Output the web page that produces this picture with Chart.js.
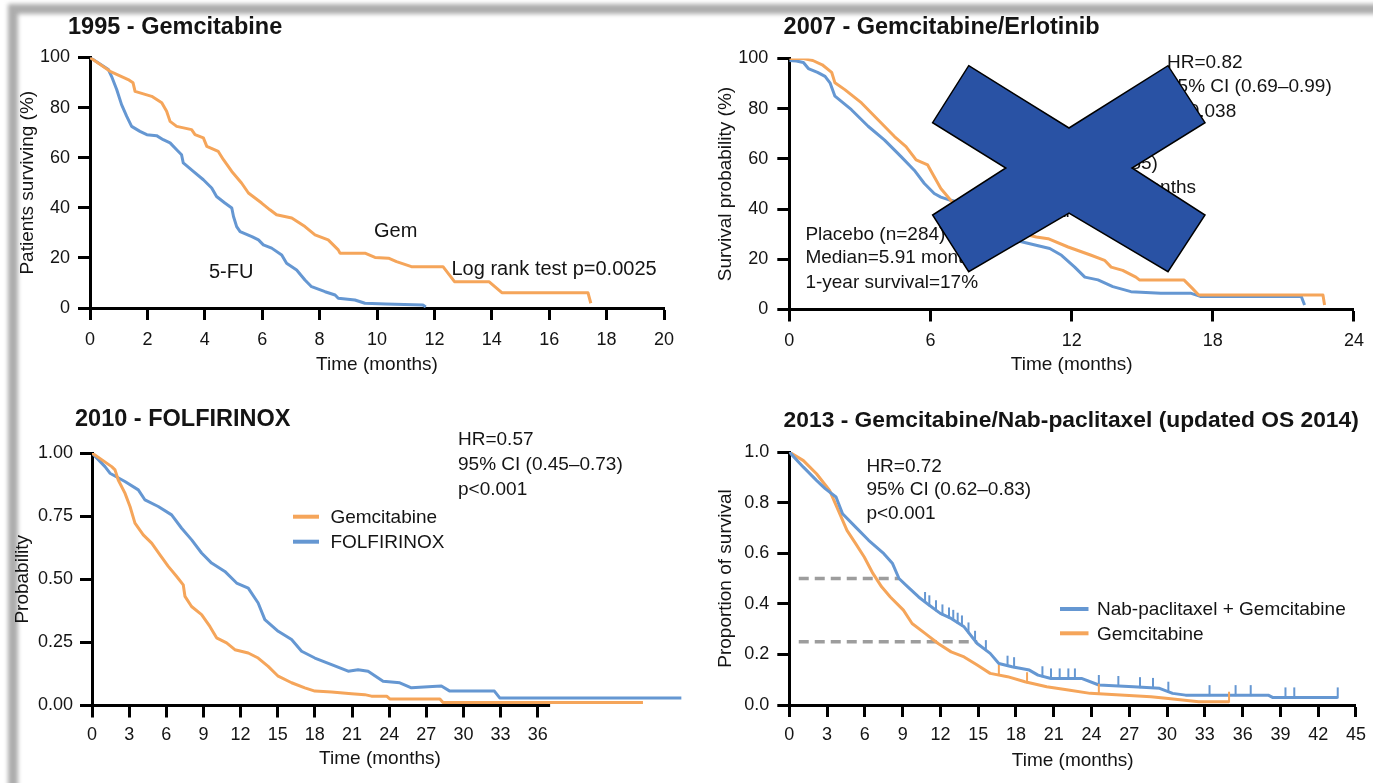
<!DOCTYPE html>
<html lang="en">
<head>
<meta charset="utf-8">
<title>Overall survival in advanced pancreatic cancer trials</title>
<script src="https://cdn.jsdelivr.net/npm/chart.js@4.4.1/dist/chart.umd.min.js"></script>
<style>
  html, body { margin: 0; padding: 0; background: #fff; }
  #sheet { position: relative; width: 1373px; height: 783px; overflow: hidden; background: #fff; }
  #sheet .edge { position: absolute; left: 8px; top: 4px; width: 1420px; height: 830px;
    border-top: 10px solid #adadad; border-left: 10px solid #adadad; filter: blur(2px); }
  #sheet canvas { position: absolute; }
  #sheet svg { position: absolute; left: 0; top: 0; }
</style>
</head>
<body>
<div id="sheet">
  <div class="edge"></div>
  <canvas id="km1995" width="690" height="390" style="left:0;top:0"></canvas>
  <canvas id="km2007" width="683" height="390" style="left:690px;top:0"></canvas>
  <canvas id="km2010" width="690" height="393" style="left:0;top:390px"></canvas>
  <canvas id="km2013" width="683" height="393" style="left:690px;top:390px"></canvas>
  <svg width="1373" height="783"><polygon points="968.7,65.7 1069,128 1168,65.7 1205,122.7 1132,168 1205,215 1168,271.7 1069,213 968.7,271.7 932.6,215 1005.8,168 932.6,122.7" fill="#2952a4" stroke="#000" stroke-width="1.5"/></svg>
</div>
<script>
const FONT = "'Liberation Sans', Arial, Helvetica, sans-serif";
const INK = '#141414';
const ORANGE = '#f5a55a';
const BLUE = '#6597d2';
const GREY = '#9d9d9d';

// ---- 1995: gemcitabine vs 5-FU (survival %, months) ----
const t1995Gem = [0, 0.7, 1.33, 1.5, 1.57, 2.15, 2.5, 2.67, 2.79, 3.02, 3.54, 3.66, 3.95, 4.07, 4.47, 4.65, 4.94, 5.28, 5.52, 5.98, 6.27, 6.5, 7.03, 7.49, 7.84, 8.3, 8.65, 8.71, 9.58, 9.93, 10.4, 10.68, 11.2, 12.3, 12.7, 13.9, 14.35, 17.35, 17.45];
const s1995Gem = [100, 94.5, 91.2, 89.9, 86.5, 84.5, 81.9, 78.5, 74.5, 72.5, 71.2, 69.2, 67.9, 64.5, 62.5, 59.2, 54.5, 49.9, 45.9, 41.9, 39.2, 37.2, 35.9, 32.5, 29.2, 27.2, 23.2, 21.9, 21.9, 20.2, 19.9, 18.5, 16.5, 16.5, 10.5, 10.5, 6.1, 6.1, 1.9];
const t1995Fu = [0, 0.64, 0.75, 0.93, 1.1, 1.28, 1.45, 1.74, 1.98, 2.32, 2.55, 2.79, 3.02, 3.19, 3.25, 3.6, 3.95, 4.24, 4.41, 4.7, 4.94, 5.0, 5.11, 5.23, 5.64, 5.87, 6.04, 6.33, 6.68, 6.85, 7.2, 7.49, 7.72, 8.19, 8.54, 8.65, 9.23, 9.58, 10.3, 11.6, 11.7];
const s1995Fu = [100, 95.2, 92.5, 87.2, 81.2, 76.5, 72.5, 70.5, 69.2, 68.8, 67.2, 65.9, 63.2, 61.2, 57.9, 54.5, 51.2, 47.9, 44.5, 41.9, 39.9, 36.5, 32.5, 30.5, 28.5, 27.2, 25.2, 23.9, 21.2, 17.9, 15.2, 11.2, 8.5, 6.5, 5.2, 3.9, 3.2, 1.9, 1.6, 1.2, 0.4];
const ticks1995X = [0, 2, 4, 6, 8, 10, 12, 14, 16, 18, 20];
const ticks1995Y = [0, 20, 40, 60, 80, 100];

// ---- 2007: gemcitabine/erlotinib vs placebo ----
const t2007Erl = [0, 0.6, 1.0, 1.4, 1.8, 1.94, 2.36, 3.07, 3.77, 4.47, 4.96, 5.39, 5.88, 6.16, 6.44, 6.86, 7.14, 7.5, 8, 8.5, 9, 9.6, 10.5, 11.0, 11.85, 12.83, 13.4, 13.68, 14.17, 14.73, 14.88, 16.77, 17.12, 17.4, 22.68, 22.75];
const s2007Erl = [100, 100, 99.2, 97.5, 94.5, 90.3, 87.6, 82.3, 75.6, 68.9, 64.9, 59.6, 57.6, 52.9, 48.2, 43.5, 40.8, 40, 38.5, 36, 33, 31, 28.9, 28.2, 24.9, 21.6, 19.6, 16.9, 15.6, 12.9, 11.8, 11.8, 8.5, 5.8, 5.8, 1.8];
const t2007Pbo = [0, 0.3, 0.6, 0.81, 1.2, 1.52, 1.73, 1.94, 2.64, 3.35, 4.05, 4.75, 5.31, 5.74, 6.16, 6.44, 6.86, 7.5, 8, 8.5, 9, 9.6, 11.07, 11.57, 12.13, 12.56, 13.12, 13.75, 14.52, 15.79, 17.05, 17.47, 21.76, 21.9];
const s2007Pbo = [99.2, 99, 98.4, 96, 94.5, 92.9, 90.3, 85, 79.6, 73, 67.5, 60.9, 55.5, 50.2, 46.2, 44.8, 43.5, 42, 38, 34, 30.5, 27.6, 24.3, 21.6, 16.9, 12.9, 11.8, 9.1, 7.1, 6.5, 6.5, 5.2, 5.2, 1.8];
const ticks2007X = [0, 6, 12, 18, 24];
const ticks2007Y = [0, 20, 40, 60, 80, 100];

// ---- 2010: FOLFIRINOX vs gemcitabine (probability) ----
const t2010Gem = [0, 1.59, 1.86, 2.12, 2.66, 3.07, 3.47, 4.14, 4.82, 5.49, 6.16, 6.84, 7.37, 7.51, 8.04, 8.85, 9.52, 10.06, 10.87, 11.54, 12.62, 13.42, 14.23, 15.04, 16.12, 17.19, 18.0, 19.35, 20.96, 22.03, 22.57, 23.8, 24.05, 28.1, 28.35, 44.5];
const s2010Gem = [1, 0.946, 0.933, 0.893, 0.841, 0.788, 0.722, 0.676, 0.643, 0.597, 0.551, 0.511, 0.478, 0.432, 0.392, 0.36, 0.313, 0.268, 0.248, 0.221, 0.208, 0.188, 0.155, 0.116, 0.09, 0.07, 0.057, 0.053, 0.047, 0.043, 0.037, 0.037, 0.026, 0.026, 0.012, 0.012];
const t2010Ffx = [0, 1.05, 1.45, 2.66, 3.74, 4.28, 5.35, 6.43, 7.24, 8.05, 8.85, 9.66, 10.73, 11.68, 12.62, 13.42, 13.96, 15.04, 16.12, 16.93, 18.0, 19.35, 20.69, 21.49, 22.3, 23.51, 24.86, 25.8, 27.5, 28.22, 28.9, 32.5, 32.93, 47.6];
const s2010Ffx = [1, 0.946, 0.92, 0.887, 0.854, 0.814, 0.788, 0.755, 0.702, 0.656, 0.604, 0.564, 0.531, 0.485, 0.465, 0.406, 0.34, 0.294, 0.261, 0.215, 0.188, 0.162, 0.136, 0.142, 0.136, 0.096, 0.09, 0.07, 0.075, 0.077, 0.057, 0.057, 0.03, 0.03];
const ticks2010X = [0, 3, 6, 9, 12, 15, 18, 21, 24, 27, 30, 33, 36];
const ticks2010Y = [0, 0.25, 0.5, 0.75, 1];

// ---- 2013: nab-paclitaxel + gemcitabine vs gemcitabine ----
const t2013Nab = [0, 1.12, 2.16, 2.85, 3.71, 4.23, 5.27, 6.3, 7.51, 8.2, 8.71, 9.41, 10.27, 11.12, 11.99, 12.85, 13.88, 14.92, 15.95, 16.64, 17.68, 19.06, 19.75, 20.78, 23.2, 24.58, 27.33, 29.4, 30.44, 31.47, 38.03, 38.37, 43.55];
const s2013Nab = [1, 0.94, 0.888, 0.855, 0.822, 0.756, 0.703, 0.651, 0.598, 0.559, 0.5, 0.467, 0.427, 0.394, 0.362, 0.342, 0.309, 0.243, 0.204, 0.164, 0.151, 0.138, 0.118, 0.105, 0.105, 0.079, 0.072, 0.066, 0.046, 0.039, 0.039, 0.03, 0.03];
const t2013Gem = [0, 1.12, 2.16, 3.2, 3.89, 4.58, 5.27, 5.95, 6.64, 7.33, 8.02, 9.06, 9.75, 10.78, 11.82, 12.85, 13.88, 14.92, 15.95, 17.33, 18.71, 20.44, 22.16, 23.89, 26.64, 28.72, 30.1, 32.51, 34.92];
const s2013Gem = [1, 0.966, 0.914, 0.848, 0.769, 0.69, 0.638, 0.585, 0.52, 0.467, 0.427, 0.375, 0.322, 0.283, 0.243, 0.21, 0.19, 0.158, 0.125, 0.112, 0.092, 0.072, 0.059, 0.046, 0.039, 0.033, 0.026, 0.013, 0.013];
const censor2013Nab = [10.78, 11.12, 11.65, 12.16, 12.68, 13.02, 13.37, 13.71, 14.23, 14.75, 15.61, 17.33, 17.85, 20.1, 20.78, 21.47, 22.16, 22.68, 24.58, 26.13, 27.85, 28.88, 30.1, 33.37, 35.44, 36.64, 39.4, 40.1, 43.55];
const censor2013Gem = [16.64, 18.88, 24.58, 34.92];
// median and quartile reference lines
const tMedianRef = [0.75, 8.71];
const sMedianRef = [0.5, 0.5];
const tQuartileRef = [0.75, 14.92];
const sQuartileRef = [0.25, 0.25];
const ticks2013X = [0, 3, 6, 9, 12, 15, 18, 21, 24, 27, 30, 33, 36, 39, 42, 45];
const ticks2013Y = [0, 0.2, 0.4, 0.6, 0.8, 1];

// survival level of a curve at time t (linear between read points)
function valueAt(data, t) {
  for (let i = 0; i < data.length - 1; i++) {
    const a = data[i], b = data[i + 1];
    if (t >= a.x && t <= b.x) {
      if (b.x === a.x) return b.y;
      return a.y + (b.y - a.y) * (t - a.x) / (b.x - a.x);
    }
  }
  return data[data.length - 1].y;
}

function overlay(p) {
  return {
    id: 'kmOverlay',
    afterDraw(chart) {
      const ctx = chart.ctx, x = chart.scales.x, y = chart.scales.y, area = chart.chartArea;
      ctx.save();
      if (p.xAxisTo !== undefined) {
        ctx.strokeStyle = '#000';
        ctx.lineWidth = 3;
        ctx.beginPath();
        ctx.moveTo(x.getPixelForValue(0) - 1.5, area.bottom);
        ctx.lineTo(x.getPixelForValue(p.xAxisTo), area.bottom);
        ctx.stroke();
      }
      (p.censors || []).forEach(c => {
        const ds = chart.data.datasets[c.dataset];
        ctx.strokeStyle = ds.borderColor;
        ctx.lineWidth = 2;
        c.times.forEach(t => {
          const px = x.getPixelForValue(t), py = y.getPixelForValue(valueAt(ds.data, t));
          ctx.beginPath();
          ctx.moveTo(px, py + 1);
          ctx.lineTo(px, py - 10);
          ctx.stroke();
        });
      });
      (p.legend || []).forEach(l => {
        const ds = chart.data.datasets[l.dataset];
        ctx.strokeStyle = ds.borderColor;
        ctx.lineWidth = 4;
        ctx.beginPath();
        ctx.moveTo(l.x1, l.y);
        ctx.lineTo(l.x2, l.y);
        ctx.stroke();
        ctx.font = '19px ' + FONT;
        ctx.fillStyle = INK;
        ctx.textAlign = 'left';
        ctx.textBaseline = 'middle';
        ctx.fillText(ds.label, l.tx, l.y + 1);
      });
      (p.texts || []).forEach(t => {
        ctx.font = (t.bold ? 'bold ' : '') + t.size + 'px ' + FONT;
        ctx.fillStyle = INK;
        ctx.textAlign = t.align || 'left';
        ctx.textBaseline = 'middle';
        ctx.fillText(t.text, t.x, t.y);
      });
      ctx.restore();
    }
  };
}

function kmPanel(id, p) {
  const canvas = document.getElementById(id);
  const W = canvas.width, H = canvas.height;
  const datasets = p.series.map(s => ({
    label: s.label,
    data: s.t.map((v, i) => ({x: v, y: s.s[i]})),
    borderColor: s.color,
    borderWidth: s.width || 3,
    borderDash: s.dash || [],
    pointRadius: 0,
    tension: 0,
    fill: false,
    borderJoinStyle: 'round',
    borderCapStyle: 'butt'
  }));
  const tickFont = {family: FONT, size: 18};
  const axisFont = {family: FONT, size: 19};
  const grid = {display: true, drawOnChartArea: false, drawTicks: true, tickLength: 12, tickWidth: 3, tickColor: '#000'};
  new Chart(canvas, {
    type: 'line',
    data: {datasets},
    options: {
      responsive: false,
      animation: false,
      devicePixelRatio: 1,
      events: [],
      layout: {padding: {left: 0, top: p.area.top, right: W - p.area.right, bottom: 0}},
      plugins: {legend: {display: false}, tooltip: {enabled: false}, title: {display: false}},
      scales: {
        x: {
          type: 'linear', min: 0, max: p.xMax,
          afterFit: s => { s.height = H - p.area.bottom; },
          afterBuildTicks: s => { s.ticks = p.xTicks.map(v => ({value: v})); },
          ticks: {font: tickFont, color: INK, padding: p.xPad, autoSkip: false, maxRotation: 0, minRotation: 0},
          grid: grid,
          border: {display: p.xAxisTo === undefined, width: 3, color: '#000'},
          title: {display: !!p.xTitle, text: p.xTitle || '', font: axisFont, color: INK, padding: {top: 0, bottom: p.xTitlePad || 0}}
        },
        y: {
          type: 'linear', min: 0, max: p.yMax,
          afterFit: s => { s.width = p.area.left; },
          afterBuildTicks: s => { s.ticks = p.yTicks.map(v => ({value: v})); },
          ticks: {font: tickFont, color: INK, padding: p.yPad, callback: v => v.toFixed(p.yDigits)},
          grid: grid,
          border: {display: true, width: 3, color: '#000'},
          title: {display: true, text: p.yTitle, font: axisFont, color: INK, padding: {top: p.yTitlePad, bottom: 0}}
        }
      }
    },
    plugins: [overlay(p)]
  });
}

kmPanel('km1995', {
  area: {left: 90, right: 664, top: 57.5, bottom: 308},
  xMax: 20, yMax: 100, xTicks: ticks1995X, yTicks: ticks1995Y, yDigits: 0,
  xPad: 9, yPad: 8,
  xTitle: 'Time (months)', xTitlePad: 14,
  yTitle: 'Patients surviving (%)', yTitlePad: 16,
  series: [
    {label: 'Gem', t: t1995Gem, s: s1995Gem, color: ORANGE},
    {label: '5-FU', t: t1995Fu, s: s1995Fu, color: BLUE}
  ],
  texts: [
    {text: '1995 - Gemcitabine', x: 68, y: 27.5, size: 23.5, bold: true},
    {text: 'Gem', x: 374, y: 231, size: 20},
    {text: '5-FU', x: 209, y: 272.5, size: 20},
    {text: 'Log rank test p=0.0025', x: 451.5, y: 269.5, size: 20}
  ]
});

kmPanel('km2007', {
  area: {left: 99.3, right: 668.6, top: 58.5, bottom: 309.5},
  xMax: 24, yMax: 100, xTicks: ticks2007X, yTicks: ticks2007Y, yDigits: 0,
  xPad: 9, yPad: 9,
  xTitle: 'Time (months)', xTitlePad: 14,
  yTitle: 'Survival probability (%)', yTitlePad: 24.6,
  series: [
    {label: 'Erlotinib', t: t2007Erl, s: s2007Erl, color: ORANGE},
    {label: 'Placebo', t: t2007Pbo, s: s2007Pbo, color: BLUE}
  ],
  texts: [
    {text: '2007 - Gemcitabine/Erlotinib', x: 93.6, y: 28, size: 23.5, bold: true},
    {text: 'HR=0.82', x: 477, y: 62.5, size: 19},
    {text: '95% CI (0.69\u20130.99)', x: 477, y: 87, size: 19},
    {text: 'p=0.038', x: 477, y: 111.7, size: 19},
    {text: 'Erlotinib (n=285)', x: 328, y: 164, size: 19},
    {text: 'Median=6.24 months', x: 328, y: 188, size: 19},
    {text: '1-year survival=23%', x: 328, y: 212, size: 19},
    {text: 'Placebo (n=284)', x: 115.4, y: 234.5, size: 19},
    {text: 'Median=5.91 months', x: 115.4, y: 258, size: 19},
    {text: '1-year survival=17%', x: 115.4, y: 282.5, size: 19}
  ]
});

kmPanel('km2010', {
  area: {left: 92, right: 686.3, top: 63, bottom: 315.5},
  xMax: 48, yMax: 1, xTicks: ticks2010X, yTicks: ticks2010Y, yDigits: 2,
  xPad: 7, yPad: 7, xAxisTo: 37,
  yTitle: 'Probability', yTitlePad: 11.6,
  series: [
    {label: 'Gemcitabine', t: t2010Gem, s: s2010Gem, color: ORANGE},
    {label: 'FOLFIRINOX', t: t2010Ffx, s: s2010Ffx, color: BLUE}
  ],
  legend: [
    {dataset: 0, x1: 293, x2: 319, y: 126.7, tx: 330.4},
    {dataset: 1, x1: 293, x2: 319, y: 151.7, tx: 330.4}
  ],
  texts: [
    {text: '2010 - FOLFIRINOX', x: 75, y: 30, size: 23.5, bold: true},
    {text: 'HR=0.57', x: 458, y: 49.3, size: 19},
    {text: '95% CI (0.45\u20130.73)', x: 458, y: 75, size: 19},
    {text: 'p<0.001', x: 458, y: 99.3, size: 19},
    {text: 'Time (months)', x: 380, y: 369.2, size: 19, align: 'center'}
  ]
});

kmPanel('km2013', {
  area: {left: 99.3, right: 668.2, top: 62, bottom: 315},
  xMax: 45, yMax: 1, xTicks: ticks2013X, yTicks: ticks2013Y, yDigits: 1,
  xPad: 7, yPad: 8,
  xTitle: 'Time (months)', xTitlePad: 10.8,
  yTitle: 'Proportion of survival', yTitlePad: 24.6,
  series: [
    {label: 'Nab-paclitaxel + Gemcitabine', t: t2013Nab, s: s2013Nab, color: BLUE},
    {label: 'Gemcitabine', t: t2013Gem, s: s2013Gem, color: ORANGE},
    {label: 'Median', t: tMedianRef, s: sMedianRef, color: GREY, width: 3.5, dash: [10, 6]},
    {label: 'Quartile', t: tQuartileRef, s: sQuartileRef, color: GREY, width: 3.5, dash: [10, 6]}
  ],
  censors: [
    {dataset: 0, times: censor2013Nab},
    {dataset: 1, times: censor2013Gem}
  ],
  legend: [
    {dataset: 0, x1: 370, x2: 398.5, y: 219, tx: 407},
    {dataset: 1, x1: 370, x2: 398.5, y: 243.3, tx: 407}
  ],
  texts: [
    {text: '2013 - Gemcitabine/Nab-paclitaxel (updated OS 2014)', x: 93.6, y: 30.5, size: 22.8, bold: true},
    {text: 'HR=0.72', x: 176.4, y: 76.7, size: 19},
    {text: '95% CI (0.62\u20130.83)', x: 176.4, y: 100, size: 19},
    {text: 'p<0.001', x: 176.4, y: 124, size: 19}
  ]
});
</script>
</body>
</html>
